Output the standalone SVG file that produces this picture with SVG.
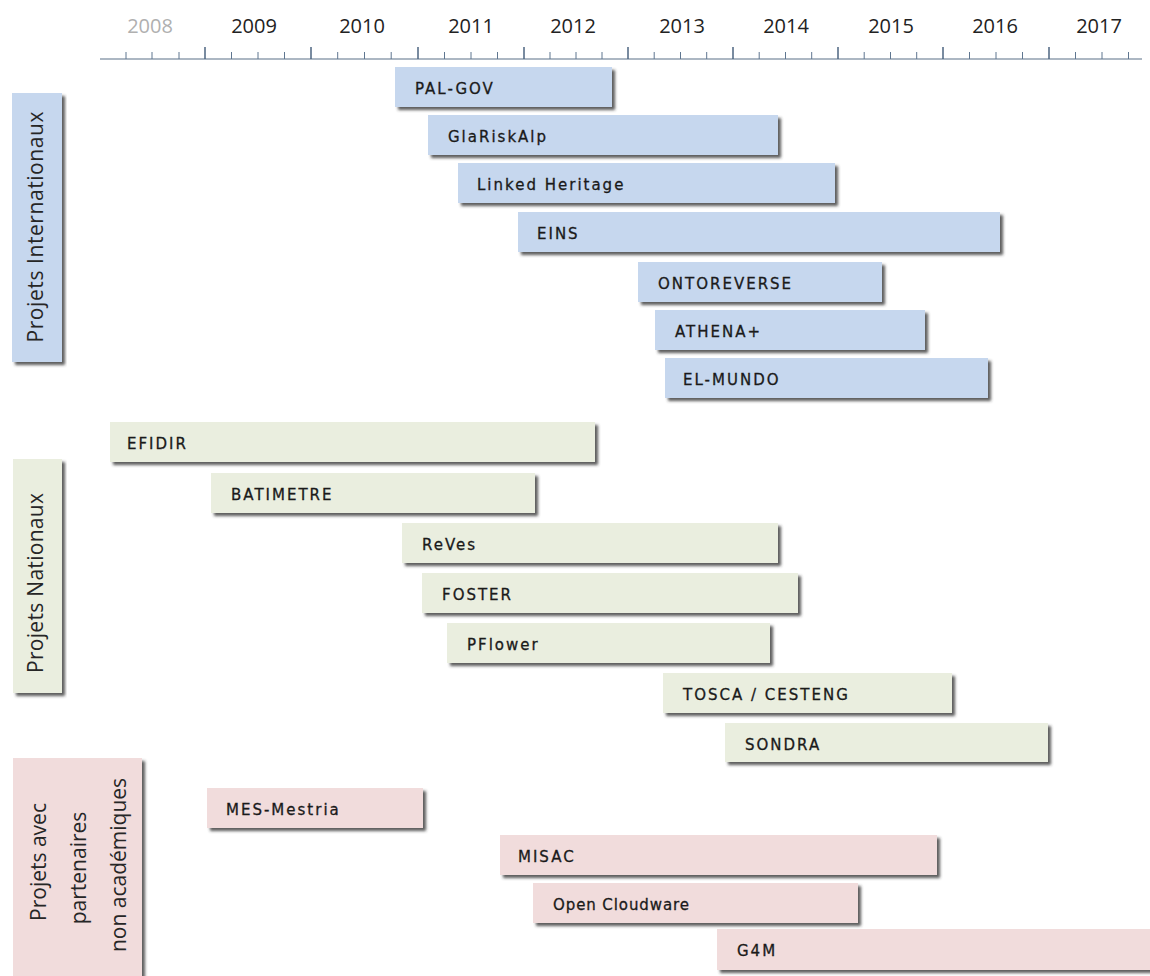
<svg xmlns="http://www.w3.org/2000/svg" width="1150" height="976" viewBox="0 0 1150 976">
<defs>
<filter id="sh" x="-5%" y="-20%" width="115%" height="160%">
<feGaussianBlur in="SourceAlpha" stdDeviation="1.4"/>
<feOffset dx="3" dy="3" result="b"/>
<feFlood flood-color="#333333" flood-opacity="0.8"/>
<feComposite in2="b" operator="in"/>
<feMerge><feMergeNode/><feMergeNode in="SourceGraphic"/></feMerge>
</filter>
<style>
.bar{filter:url(#sh)}
.bl{fill:#c6d7ee}
.gr{fill:#eaeedf}
.pk{fill:#f1dcdc}
.lab{font-family:"DejaVu Sans",Verdana,sans-serif;font-size:15px;letter-spacing:2px;fill:#1a1a1a;stroke:#1a1a1a;stroke-width:0.3px}
.side{font-family:"Open Sans","Liberation Sans",sans-serif;font-size:21px;fill:#262626;text-anchor:middle}
.yr{font-family:"Open Sans","Liberation Sans",sans-serif;font-size:20px;fill:#222222;text-anchor:middle}
.mj{stroke:#4d6580;stroke-width:1.5}
.mn{stroke:#5f7690;stroke-width:1}
</style>
</defs>
<rect width="1150" height="976" fill="#ffffff"/>

<g id="axis">
<text class="yr" x="150" y="33" style="fill:#b0b0b0">2008</text>
<text class="yr" x="254" y="33">2009</text>
<text class="yr" x="362" y="33">2010</text>
<text class="yr" x="471" y="33">2011</text>
<text class="yr" x="573" y="33">2012</text>
<text class="yr" x="682" y="33">2013</text>
<text class="yr" x="786" y="33">2014</text>
<text class="yr" x="891" y="33">2015</text>
<text class="yr" x="995" y="33">2016</text>
<text class="yr" x="1099" y="33">2017</text>
<line x1="100" y1="59" x2="1142" y2="59" stroke="#5a7088" stroke-width="1.2"/>
<g class="mj">
<line x1="205" y1="47" x2="205" y2="59"/>
<line x1="311" y1="47" x2="311" y2="59"/>
<line x1="418" y1="47" x2="418" y2="59"/>
<line x1="524" y1="47" x2="524" y2="59"/>
<line x1="628" y1="47" x2="628" y2="59"/>
<line x1="733" y1="47" x2="733" y2="59"/>
<line x1="838" y1="47" x2="838" y2="59"/>
<line x1="943" y1="47" x2="943" y2="59"/>
<line x1="1049" y1="47" x2="1049" y2="59"/>
</g>
<g class="mn">
<line x1="126" y1="52" x2="126" y2="59"/>
<line x1="152" y1="52" x2="152" y2="59"/>
<line x1="179" y1="52" x2="179" y2="59"/>
<line x1="231.5" y1="52" x2="231.5" y2="59"/>
<line x1="258" y1="52" x2="258" y2="59"/>
<line x1="284.5" y1="52" x2="284.5" y2="59"/>
<line x1="337.7" y1="52" x2="337.7" y2="59"/>
<line x1="364.5" y1="52" x2="364.5" y2="59"/>
<line x1="391.2" y1="52" x2="391.2" y2="59"/>
<line x1="444.5" y1="52" x2="444.5" y2="59"/>
<line x1="471" y1="52" x2="471" y2="59"/>
<line x1="497.5" y1="52" x2="497.5" y2="59"/>
<line x1="550" y1="52" x2="550" y2="59"/>
<line x1="576" y1="52" x2="576" y2="59"/>
<line x1="602" y1="52" x2="602" y2="59"/>
<line x1="654.2" y1="52" x2="654.2" y2="59"/>
<line x1="680.5" y1="52" x2="680.5" y2="59"/>
<line x1="706.7" y1="52" x2="706.7" y2="59"/>
<line x1="759.2" y1="52" x2="759.2" y2="59"/>
<line x1="785.5" y1="52" x2="785.5" y2="59"/>
<line x1="811.7" y1="52" x2="811.7" y2="59"/>
<line x1="864.2" y1="52" x2="864.2" y2="59"/>
<line x1="890.5" y1="52" x2="890.5" y2="59"/>
<line x1="916.7" y1="52" x2="916.7" y2="59"/>
<line x1="969.5" y1="52" x2="969.5" y2="59"/>
<line x1="996" y1="52" x2="996" y2="59"/>
<line x1="1022.5" y1="52" x2="1022.5" y2="59"/>
<line x1="1075.5" y1="52" x2="1075.5" y2="59"/>
<line x1="1102" y1="52" x2="1102" y2="59"/>
<line x1="1128.5" y1="52" x2="1128.5" y2="59"/>
</g>
</g>

<g id="cat-internationaux">
<rect class="bar bl" x="12" y="93" width="50" height="269"/>
<text class="side" transform="translate(43,227) rotate(-90)" textLength="231" lengthAdjust="spacing">Projets Internationaux</text>
</g>
<g id="cat-nationaux">
<rect class="bar gr" x="13" y="459" width="49" height="234"/>
<text class="side" transform="translate(43,583) rotate(-90)" textLength="180" lengthAdjust="spacing">Projets Nationaux</text>
</g>
<g id="cat-partenaires">
<rect class="bar pk" x="13" y="758" width="129" height="232"/>
<text class="side" transform="translate(46,862) rotate(-90)">Projets avec</text>
<text class="side" transform="translate(86,868) rotate(-90)">partenaires</text>
<text class="side" transform="translate(126,865) rotate(-90)">non académiques</text>
</g>

<g id="pal-gov"><rect class="bar bl" x="395" y="67" width="217" height="40"/><text class="lab" x="415" y="94">PAL-GOV</text></g>
<g id="glariskalp"><rect class="bar bl" x="428" y="115" width="350" height="40"/><text class="lab" x="448" y="142">GlaRiskAlp</text></g>
<g id="linked-heritage"><rect class="bar bl" x="458" y="163" width="377" height="40"/><text class="lab" x="477" y="190">Linked Heritage</text></g>
<g id="eins"><rect class="bar bl" x="518" y="212" width="482" height="40"/><text class="lab" x="537" y="239">EINS</text></g>
<g id="ontoreverse"><rect class="bar bl" x="638" y="262" width="244" height="40"/><text class="lab" x="658" y="289">ONTOREVERSE</text></g>
<g id="athena"><rect class="bar bl" x="655" y="310" width="270" height="40"/><text class="lab" x="675" y="337">ATHENA+</text></g>
<g id="el-mundo"><rect class="bar bl" x="665" y="358" width="323" height="40"/><text class="lab" x="683" y="385">EL-MUNDO</text></g>

<g id="efidir"><rect class="bar gr" x="110" y="422" width="485" height="40"/><text class="lab" x="127" y="449">EFIDIR</text></g>
<g id="batimetre"><rect class="bar gr" x="211" y="473" width="324" height="40"/><text class="lab" x="231" y="500">BATIMETRE</text></g>
<g id="reves"><rect class="bar gr" x="402" y="523" width="376" height="40"/><text class="lab" x="422" y="550">ReVes</text></g>
<g id="foster"><rect class="bar gr" x="422" y="573" width="376" height="40"/><text class="lab" x="442" y="600">FOSTER</text></g>
<g id="pflower"><rect class="bar gr" x="447" y="623" width="323" height="40"/><text class="lab" x="467" y="650">PFlower</text></g>
<g id="tosca"><rect class="bar gr" x="663" y="673" width="289" height="40"/><text class="lab" x="683" y="700">TOSCA / CESTENG</text></g>
<g id="sondra"><rect class="bar gr" x="725" y="723" width="323" height="39"/><text class="lab" x="745" y="750">SONDRA</text></g>

<g id="mes-mestria"><rect class="bar pk" x="207" y="788" width="216" height="40"/><text class="lab" x="226" y="815">MES-Mestria</text></g>
<g id="misac"><rect class="bar pk" x="500" y="835" width="437" height="40"/><text class="lab" x="518" y="862">MISAC</text></g>
<g id="open-cloudware"><rect class="bar pk" x="533" y="883" width="325" height="40"/><text class="lab" x="553" y="910" textLength="138" lengthAdjust="spacing">Open Cloudware</text></g>
<g id="g4m"><rect class="bar pk" x="717" y="929" width="450" height="41"/><text class="lab" x="737" y="956">G4M</text></g>

<g id="connectors"/>
</svg>
